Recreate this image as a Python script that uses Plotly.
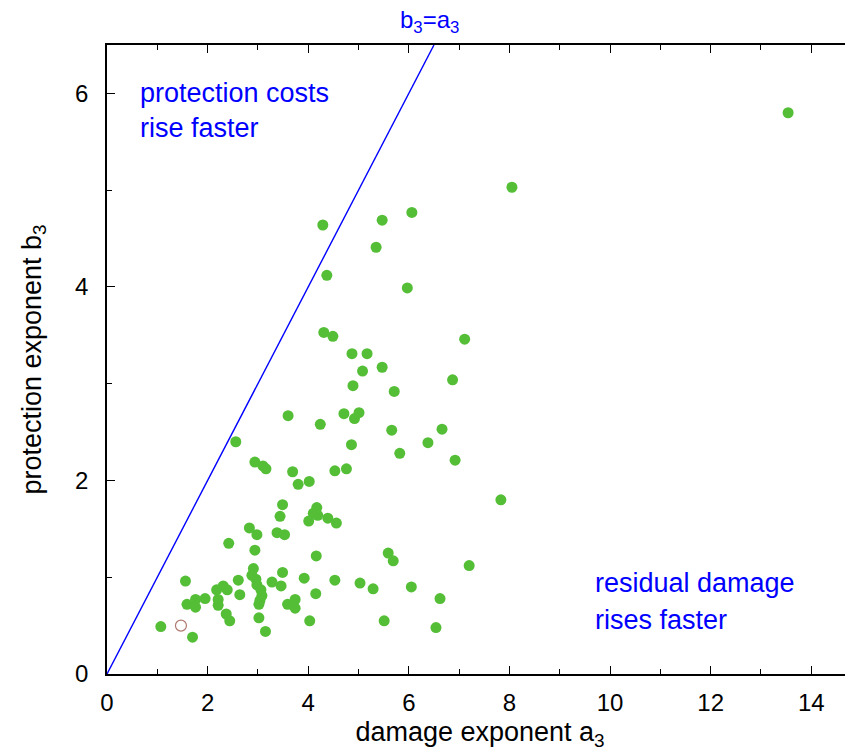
import plotly.graph_objects as go

# damage exponent a3 (x) and protection exponent b3 (y)
a3 = [1.07, 1.70, 1.56, 1.59, 1.76, 1.76, 1.95, 2.18, 2.21, 2.21,
      2.31, 2.39, 2.37, 2.44, 2.42, 2.61, 2.64, 2.83, 2.98, 2.94,
      2.91, 2.88, 2.96, 2.98, 3.06, 3.08, 3.04, 3.02, 3.02, 3.15,
      3.28, 3.46, 3.49, 3.38, 3.53, 3.44, 3.49, 3.59, 3.74, 3.74,
      3.92, 4.03, 4.15, 4.16, 4.01, 4.10, 4.17, 4.19, 4.39, 4.56,
      4.53, 5.03, 4.89, 5.71, 6.87, 3.60, 4.24, 4.71, 5.01, 4.92,
      5.66, 6.66, 6.38, 4.86, 5.82, 6.92, 2.94, 3.10, 3.16, 3.69,
      4.53, 4.76, 3.80, 4.02, 7.83, 5.59, 5.69, 7.20, 4.29, 5.47,
      6.06, 5.35, 4.37, 5.97, 4.31, 4.49, 7.11, 4.87, 5.17, 5.47,
      5.08, 8.05, 13.54, 6.05, 6.62, 6.54, 2.56, 5.29, 5.51]
b3 = [0.49, 0.38, 0.96, 0.72, 0.77, 0.69, 0.78, 0.87, 0.77, 0.71,
      0.91, 0.87, 0.62, 0.55, 1.35, 0.97, 0.82, 1.51, 1.44, 1.28,
      1.09, 1.02, 0.98, 0.92, 0.87, 0.81, 0.76, 0.72, 0.58, 0.44,
      0.95, 0.91, 1.05, 1.46, 1.44, 1.63, 1.75, 0.72, 0.77, 0.68,
      0.99, 0.55, 0.83, 1.22, 1.58, 1.66, 1.72, 1.64, 1.61, 1.56,
      0.97, 0.94, 2.98, 2.92, 3.04, 2.67, 2.58, 2.69, 2.70, 2.64,
      2.52, 2.53, 2.39, 2.37, 2.28, 2.21, 2.19, 2.15, 2.12, 2.09,
      2.10, 2.12, 1.96, 1.99, 1.80, 1.25, 1.17, 1.12, 4.64, 4.69,
      4.77, 4.41, 4.12, 3.99, 3.53, 3.49, 3.46, 3.31, 3.31, 3.17,
      3.13, 5.03, 5.80, 0.90, 0.78, 0.48, 2.40, 0.88, 0.55]

# the one open-circle outlier
open_a3 = [1.47]
open_b3 = [0.50]

# identity line b3 = a3
line_a3 = [0, 6.5]
line_b3 = [0, 6.5]

FONT = "Liberation Sans, Arial, Helvetica, sans-serif"
BLUE = "#0000FF"

fig = go.Figure()
fig.add_trace(go.Scatter(x=line_a3, y=line_b3, mode="lines",
                         line=dict(color=BLUE, width=1.4),
                         showlegend=False, hoverinfo="skip"))
fig.add_trace(go.Scatter(x=a3, y=b3, mode="markers",
                         marker=dict(color="rgb(85,190,55)", size=11,
                                     line=dict(width=0)),
                         showlegend=False))
fig.add_trace(go.Scatter(x=open_a3, y=open_b3, mode="markers",
                         marker=dict(symbol="circle-open", color="#B07A70",
                                     size=11, line=dict(width=1.2)),
                         showlegend=False))

axis_common = dict(
    ticks="inside", ticklen=8, tickwidth=1.3, tickcolor="black",
    showline=True, linecolor="black", linewidth=1.5,
    showgrid=False, zeroline=False,
    tickfont=dict(family=FONT, size=24, color="black"),
    minor=dict(dtick=1, ticks="inside", ticklen=5, tickwidth=1.2,
               tickcolor="black", showgrid=False),
)

# page body has an 8px margin, so the figure is sized/offset to compensate
fig.update_layout(
    width=845, height=743,
    margin=dict(l=99, r=0, t=37, b=77),
    paper_bgcolor="white", plot_bgcolor="white",
    font=dict(family=FONT, size=24, color="black"),
    xaxis=dict(range=[0, 14.83], dtick=2, tick0=0, mirror="ticks",
               title=dict(text="damage exponent a<sub>3</sub>",
                          font=dict(family=FONT, size=27), standoff=8),
               ticklabelstandoff=6, **axis_common),
    yaxis=dict(range=[0, 6.5], dtick=2, tick0=0,
               title=dict(text="protection exponent b<sub>3</sub>",
                          font=dict(family=FONT, size=27), standoff=26),
               ticklabelstandoff=12, **axis_common),
)

ann_font = dict(family=FONT, size=27, color=BLUE)
fig.add_annotation(x=6.42, y=1.038, xref="x", yref="paper",
                   text="b<sub>3</sub>=a<sub>3</sub>", showarrow=False,
                   font=dict(family=FONT, size=24, color=BLUE),
                   xanchor="center", yanchor="middle")
fig.add_annotation(x=0.62, y=6.0, xref="x", yref="y", text="protection costs",
                   showarrow=False, font=ann_font, xanchor="left", yanchor="middle")
fig.add_annotation(x=0.62, y=5.64, xref="x", yref="y", text="rise faster",
                   showarrow=False, font=ann_font, xanchor="left", yanchor="middle")
fig.add_annotation(x=9.66, y=0.94, xref="x", yref="y", text="residual damage",
                   showarrow=False, font=ann_font, xanchor="left", yanchor="middle")
fig.add_annotation(x=9.66, y=0.56, xref="x", yref="y", text="rises faster",
                   showarrow=False, font=ann_font, xanchor="left", yanchor="middle")

fig.write_html("out.html")
